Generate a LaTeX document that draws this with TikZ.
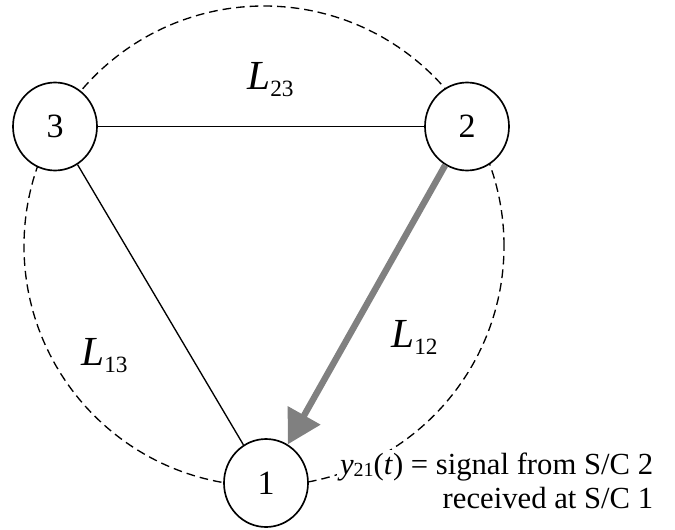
\documentclass[tikz,border=0pt]{standalone}
\usepackage{fontspec}
\setmainfont{Liberation Serif}
\usetikzlibrary{shapes.geometric,arrows.meta}
\begin{document}
\begin{tikzpicture}[x=0.75pt,y=-0.75pt,
  sc/.style={draw, line width=1.25pt, fill=white, ellipse, minimum width=63pt, minimum height=66pt, inner sep=0pt, font=\fontsize{25.5}{25.5}\selectfont},
  link/.style={line width=1pt},
  sigarrow/.style={draw={rgb,255:red,128;green,128;blue,128}, line width=4.8pt, -{Triangle[length=25pt,width=27pt]}},
  orbit/.style={line width=1pt, dash pattern=on 6.5pt off 3.75pt},
  lab/.style={anchor=base west, inner sep=0pt, font=\fontsize{31}{31}\selectfont},
  ann/.style={anchor=base east, fill=white, inner sep=2pt, font=\fontsize{23}{23}\selectfont}
]
\useasboundingbox (0,0) rectangle (675,529);
\draw[orbit] (264,246) circle[radius=180pt];
\node[sc] (n3) at (55,126.5) {3};
\node[sc] (n2) at (467,126.5) {2};
\node[sc] (n1) at (266,483) {1};
\draw[link] (n3) -- (n2);
\draw[link] (n3) -- (n1);
\draw[sigarrow] (n2) -- (n1);
\node[lab] (l23) at (247,89) {\textit{L}\raisebox{-5.8pt}{\fontsize{17.5}{17.5}\selectfont 23}};
\node[lab] (l13) at (81,365) {\textit{L}\raisebox{-5.8pt}{\fontsize{17.5}{17.5}\selectfont 13}};
\node[lab] (l12) at (391,347) {\textit{L}\raisebox{-5.8pt}{\fontsize{17.5}{17.5}\selectfont 12}};
\node[ann] (a1) at (656,474) {\textit{y}\raisebox{-1.5pt}{\fontsize{15}{15}\selectfont 21}(\textit{t}) = signal from S/C 2};
\node[ann] (a2) at (656,508) {received at S/C 1};
\end{tikzpicture}
\end{document}
